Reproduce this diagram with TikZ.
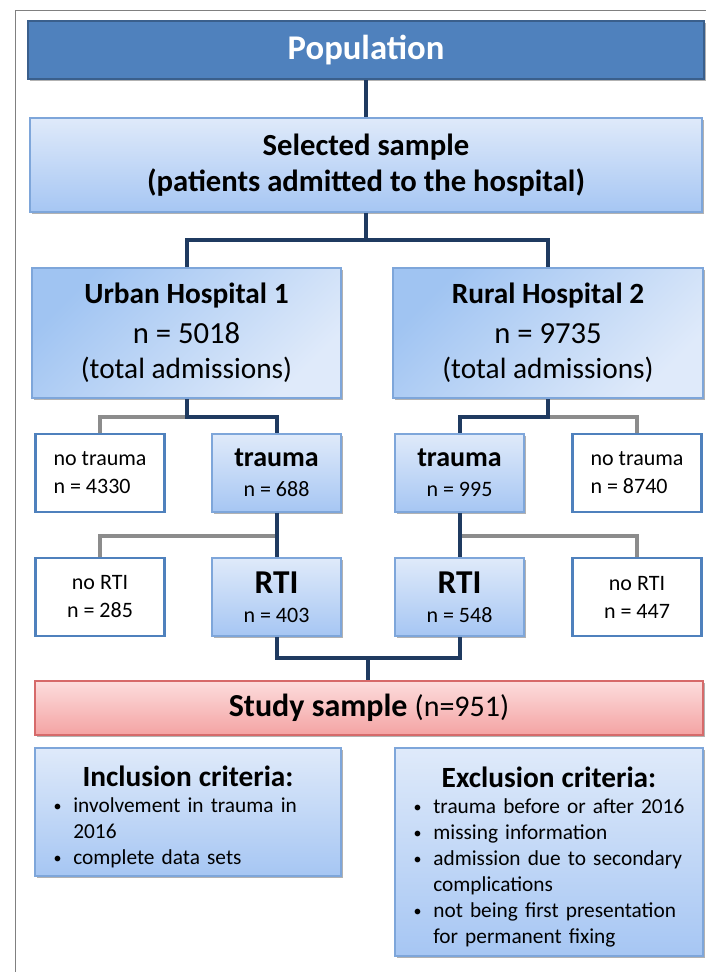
\documentclass[tikz,border=0pt]{standalone}
\usepackage{fontspec}
\setmainfont{Carlito}
\usetikzlibrary{shadows}

\definecolor{popblue}{HTML}{4F81BD}
\definecolor{popedge}{HTML}{3A5F8C}
\definecolor{boxedge}{HTML}{7EA6DA}
\definecolor{lightblue}{HTML}{DFEAFA}
\definecolor{midblue}{HTML}{A6C6F3}
\definecolor{hospblue}{HTML}{A0C4F2}
\definecolor{navyline}{HTML}{1F3A60}
\definecolor{greyline}{HTML}{8C8C8C}
\definecolor{redtop}{HTML}{FCDDDD}
\definecolor{redbot}{HTML}{F4A3A3}
\definecolor{rededge}{HTML}{D66A6A}

% bullet line with hanging indent
\newcommand{\critem}[1]{\hangindent=20.75pt\hangafter=1\noindent
	\makebox[20.75pt][l]{\hspace{6pt}\raisebox{1pt}{\fontsize{12}{12}\selectfont\textbullet}}#1\par}

\begin{document}
\begin{tikzpicture}[
	x=0.75pt, y=-0.75pt,
	line width=3pt,
	shadowed/.style={drop shadow={shadow xshift=1.2pt, shadow yshift=-1.5pt, opacity=0.3, fill=black}},
	bluebox/.style={shadowed, draw=boxedge, line width=1.2pt, top color=lightblue, bottom color=midblue, align=center},
	hospbox/.style={shadowed, draw=boxedge, line width=1.2pt, top color=hospblue, bottom color=lightblue, shading angle=45,
		minimum height=97.5pt, align=center, font=\fontsize{23}{30}\selectfont},
	whitebox/.style={draw=popblue, line width=2.2pt, fill=white, minimum width=96.75pt, minimum height=58.5pt},
	rowbox/.style={bluebox, minimum width=96.75pt, minimum height=58.5pt},
	critbox/.style={bluebox, inner xsep=8pt, align=left, font=\fontsize{16}{19.5}\selectfont},
	navy/.style={draw=navyline, line width=3pt},
	grey/.style={draw=greyline, line width=3pt}
	]
\useasboundingbox (0,0) rectangle (706,972);
\draw[gray, line width=0.6pt] (15,972) -- (15,10) -- (706,10);

% boxes
\node[shadowed, draw=popedge, line width=1.5pt, fill=popblue, text=white, minimum width=507pt, minimum height=43.5pt,
	font=\bfseries\fontsize{26}{28}\selectfont] (pop) at (366,50) {Population};
\node[bluebox, minimum width=504pt, minimum height=70.5pt, font=\bfseries\fontsize{23}{27}\selectfont]
	(sel) at (366,165) {Selected sample\\(patients admitted to the hospital)};

\node[hospbox, minimum width=231.75pt] (urban_1) at (186.5,333)
	{{\bfseries\fontsize{22}{30}\selectfont Urban Hospital 1}\\n = 5018\\[-4pt]{\fontsize{22}{24}\selectfont (total admissions)}};
\node[hospbox, minimum width=232.5pt] (rural_2) at (548,333)
	{{\bfseries\fontsize{22}{30}\selectfont Rural Hospital 2}\\n = 9735\\[-4pt]{\fontsize{22}{24}\selectfont (total admissions)}};

\node[whitebox, align=left, font=\fontsize{16.5}{21}\selectfont] (notrauma_1) at (100,473) {no trauma\\n = 4330};
\node[rowbox, font=\fontsize{16.5}{22.5}\selectfont] (trauma_1) at (276.5,473) {{\bfseries\fontsize{21}{22}\selectfont trauma}\\n = 688};
\node[rowbox, font=\fontsize{16.5}{22.5}\selectfont] (trauma_2) at (459.5,473) {{\bfseries\fontsize{21}{22}\selectfont trauma}\\n = 995};
\node[whitebox, align=left, font=\fontsize{16.5}{21}\selectfont] (notrauma_2) at (637,473) {no trauma\\n = 8740};

\node[whitebox, align=center, font=\fontsize{16.5}{21}\selectfont] (nortI_1) at (100,597) {no RTI\\n = 285};
\node[rowbox, font=\fontsize{16.5}{22}\selectfont] (rti_1) at (276.5,597) {{\bfseries\fontsize{25}{24}\selectfont RTI}\\n = 403};
\node[rowbox, font=\fontsize{16.5}{22}\selectfont] (rti_2) at (459.5,597) {{\bfseries\fontsize{25}{24}\selectfont RTI}\\n = 548};
\node[whitebox, align=center, font=\fontsize{16.5}{21}\selectfont] (nortI_2) at (637,597) {no RTI\\n = 447};

\node[shadowed, draw=rededge, line width=1.2pt, top color=redtop, bottom color=redbot, minimum width=501pt, minimum height=40.5pt,
	font=\fontsize{24}{26}\selectfont] (study) at (369,708) {{\bfseries Study sample} {\fontsize{22.5}{24}\selectfont(n=951)}};

\node[critbox, text width=213.5pt, minimum height=96pt] (incl) at (188,812) {%
	{\centering\bfseries\fontsize{22}{26}\selectfont\rule{0pt}{23pt}Inclusion criteria:\par}\raggedright
	\critem{involvement in trauma in\newline 2016}
	\critem{complete data sets}};
\node[critbox, text width=215pt, minimum height=156pt] (excl) at (549,852) {%
	{\centering\bfseries\fontsize{22}{26}\selectfont\rule{0pt}{23pt}Exclusion criteria:\par}\raggedright
	\critem{trauma before or after 2016}
	\critem{missing information}
	\critem{admission due to secondary\newline complications}
	\critem{not being first presentation\newline for permanent fixing}};

% connectors
\coordinate (split_s) at (366,240);
\coordinate (split_u) at (186.5,417);
\coordinate (split_r) at (548,417);
\coordinate (split_t1) at (276.5,536);
\coordinate (split_t2) at (459.5,536);
\coordinate (join_1) at (276.5,658);
\coordinate (join_2) at (459.5,658);
\coordinate (join_s) at (368,658);

\draw[navy] (pop.south) -- (sel.north);
\draw[navy] (sel.south) -- (split_s);
\draw[navy] (urban_1.north) |- (split_s) -| (rural_2.north);

\draw[grey] (split_u) -| (notrauma_1.north);
\draw[grey] (split_r) -| (notrauma_2.north);
\draw[navy] (urban_1.south) -- (split_u) -| (trauma_1.north);
\draw[navy] (rural_2.south) -- (split_r) -| (trauma_2.north);

\draw[grey] (split_t1) -| (nortI_1.north);
\draw[grey] (split_t2) -| (nortI_2.north);
\draw[navy] (trauma_1.south) -- (rti_1.north);
\draw[navy] (trauma_2.south) -- (rti_2.north);

\draw[navy] (rti_1.south) -- (join_1) -- (join_2) -- (rti_2.south);
\draw[navy] (join_s) -- (join_s |- study.north);

\end{tikzpicture}
\end{document}
